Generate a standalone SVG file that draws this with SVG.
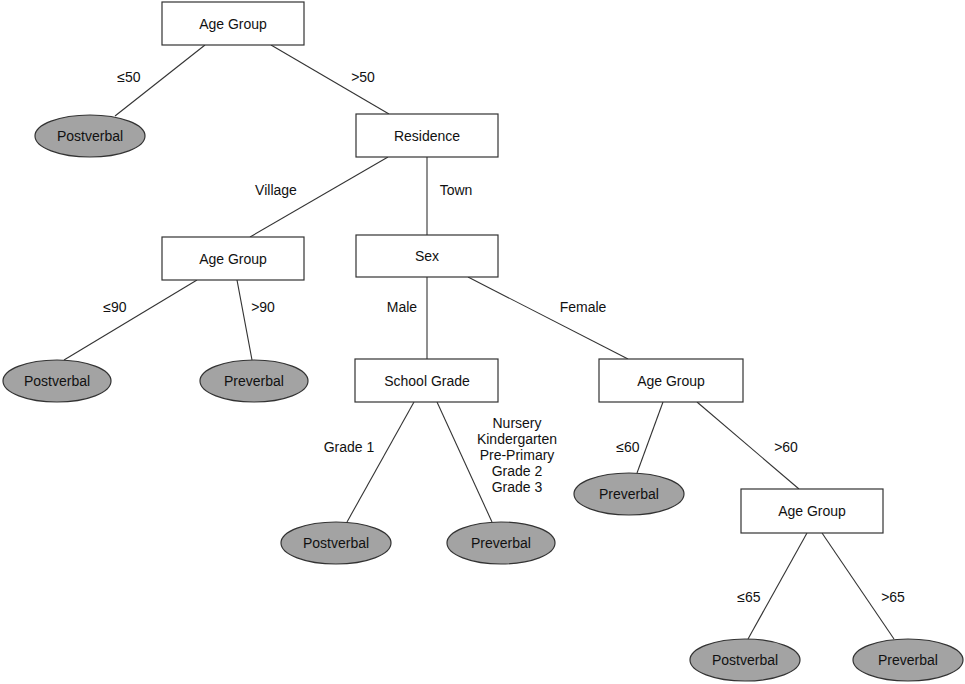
<svg xmlns="http://www.w3.org/2000/svg" width="965" height="684" viewBox="0 0 965 684">
<style>
text{font-family:"Liberation Sans",Arial,sans-serif;font-size:14px;fill:#111;text-anchor:middle;dominant-baseline:central}
.box{fill:#fff;stroke:#333;stroke-width:1.2}
.leaf{fill:#a3a3a3;stroke:#333;stroke-width:1.2}
.edge line{stroke:#333;stroke-width:1.1}
</style>
<rect width="965" height="684" fill="#fff"/>
<g class="edge" id="connectors">
<line x1="205" y1="45" x2="115" y2="116"/>
<line x1="271" y1="45" x2="389" y2="114"/>
<line x1="388" y1="157" x2="250" y2="237"/>
<line x1="427" y1="157" x2="427" y2="235"/>
<line x1="197" y1="280" x2="64" y2="360"/>
<line x1="237" y1="280" x2="252" y2="360"/>
<line x1="427" y1="277" x2="427" y2="359"/>
<line x1="468" y1="277" x2="628" y2="359"/>
<line x1="414" y1="402" x2="347" y2="522"/>
<line x1="437" y1="402" x2="492" y2="522"/>
<line x1="663" y1="402" x2="637" y2="473"/>
<line x1="697" y1="402" x2="799" y2="489"/>
<line x1="807" y1="533" x2="748" y2="639"/>
<line x1="822" y1="533" x2="894" y2="639"/>
<text x="129" y="77">≤50</text>
<text x="363" y="77">&gt;50</text>
<text x="276" y="190">Village</text>
<text x="456" y="190">Town</text>
<text x="115" y="307">≤90</text>
<text x="263" y="307">&gt;90</text>
<text x="402" y="307">Male</text>
<text x="583" y="307">Female</text>
<text x="349" y="447">Grade 1</text>
<text x="517" y="423">Nursery</text>
<text x="517" y="439">Kindergarten</text>
<text x="517" y="455">Pre-Primary</text>
<text x="517" y="471">Grade 2</text>
<text x="517" y="487">Grade 3</text>
<text x="628" y="447">≤60</text>
<text x="786" y="447">&gt;60</text>
<text x="749" y="597">≤65</text>
<text x="893" y="597">&gt;65</text>
</g>
<g id="n_root"><rect class="box" x="162" y="2" width="142" height="43"/><text x="233" y="24">Age Group</text></g>
<g id="n_leaf1"><ellipse class="leaf" cx="90" cy="136" rx="55" ry="21"/><text x="90" y="136">Postverbal</text></g>
<g id="n_residence"><rect class="box" x="356" y="114" width="142" height="43"/><text x="427" y="136">Residence</text></g>
<g id="n_age_village"><rect class="box" x="162" y="237" width="142" height="43"/><text x="233" y="259">Age Group</text></g>
<g id="n_sex"><rect class="box" x="356" y="235" width="142" height="42"/><text x="427" y="256">Sex</text></g>
<g id="n_leaf2"><ellipse class="leaf" cx="57" cy="381" rx="54" ry="21"/><text x="57" y="381">Postverbal</text></g>
<g id="n_leaf3"><ellipse class="leaf" cx="254" cy="381" rx="54" ry="21"/><text x="254" y="381">Preverbal</text></g>
<g id="n_school"><rect class="box" x="355" y="359" width="143" height="43"/><text x="427" y="381">School Grade</text></g>
<g id="n_age_female"><rect class="box" x="599" y="359" width="144" height="43"/><text x="671" y="381">Age Group</text></g>
<g id="n_leaf4"><ellipse class="leaf" cx="336" cy="543" rx="55" ry="21"/><text x="336" y="543">Postverbal</text></g>
<g id="n_leaf5"><ellipse class="leaf" cx="501" cy="543" rx="54" ry="21"/><text x="501" y="543">Preverbal</text></g>
<g id="n_leaf6"><ellipse class="leaf" cx="629" cy="494" rx="55" ry="21"/><text x="629" y="494">Preverbal</text></g>
<g id="n_age_60"><rect class="box" x="741" y="489" width="142" height="44"/><text x="812" y="511">Age Group</text></g>
<g id="n_leaf7"><ellipse class="leaf" cx="745" cy="660" rx="55" ry="21"/><text x="745" y="660">Postverbal</text></g>
<g id="n_leaf8"><ellipse class="leaf" cx="908" cy="660" rx="55" ry="21"/><text x="908" y="660">Preverbal</text></g>
</svg>
